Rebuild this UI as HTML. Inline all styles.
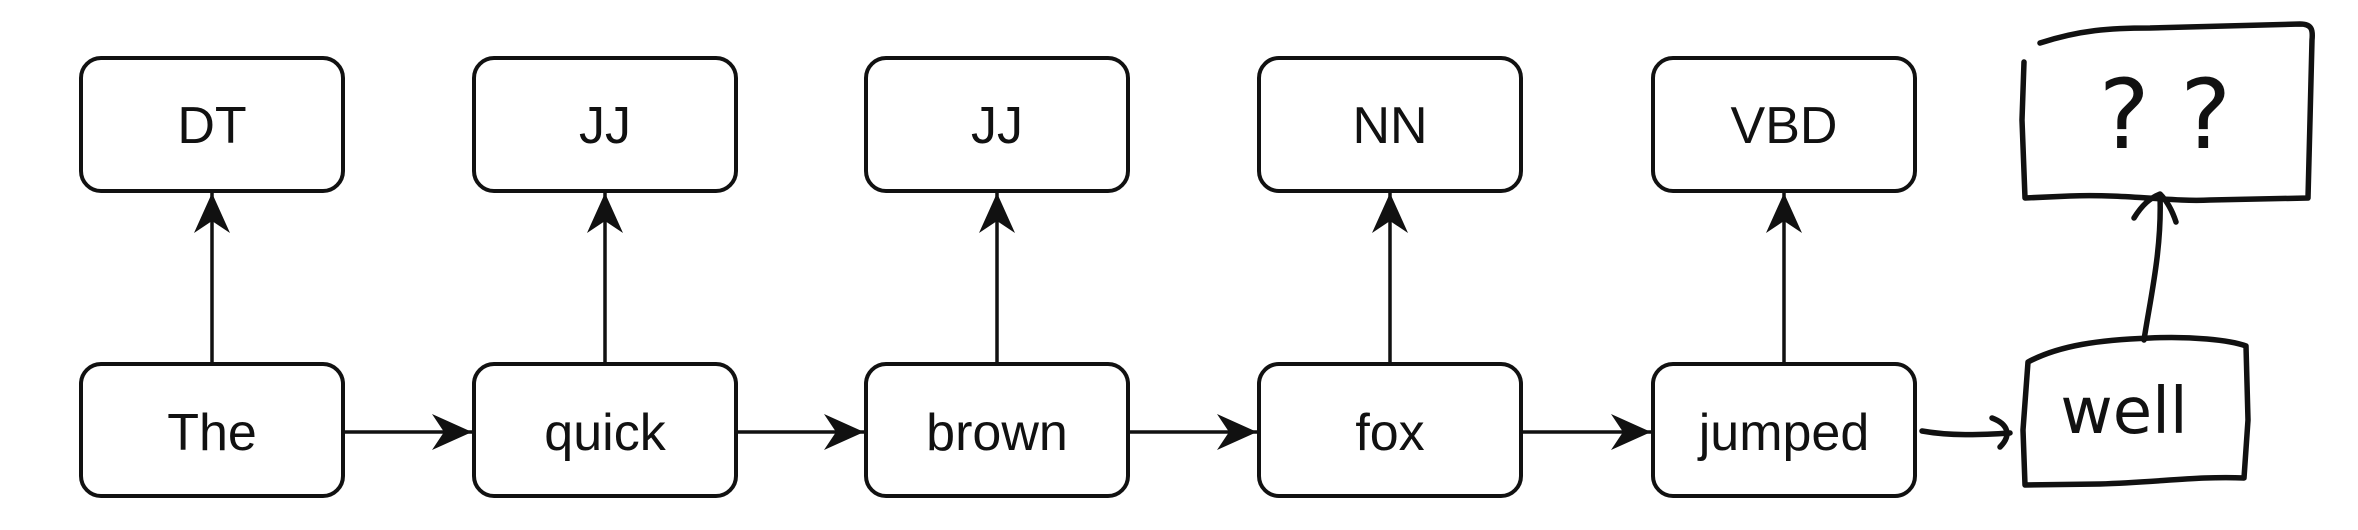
<!DOCTYPE html>
<html><head><style>
html,body{margin:0;padding:0;background:#fff;}
svg{display:block}
text{font-family:"Liberation Sans",Arial,sans-serif;font-size:52px;fill:#111;text-anchor:middle;dominant-baseline:central}
</style></head><body>
<svg width="2358" height="530" viewBox="0 0 2358 530" xmlns="http://www.w3.org/2000/svg">
<defs>
<marker id="a" markerWidth="44" markerHeight="40" refX="40" refY="18" orient="auto" markerUnits="userSpaceOnUse">
<path d="M0,0 L40,18 L0,36 L12,18 Z" fill="#111"/>
</marker>
</defs>
<g fill="#fff" stroke="#111" stroke-width="4">
<rect x="81" y="58" width="262" height="133" rx="20"/>
<rect x="474" y="58" width="262" height="133" rx="20"/>
<rect x="866" y="58" width="262" height="133" rx="20"/>
<rect x="1259" y="58" width="262" height="133" rx="20"/>
<rect x="1653" y="58" width="262" height="133" rx="20"/>
<rect x="81" y="364" width="262" height="132" rx="20"/>
<rect x="474" y="364" width="262" height="132" rx="20"/>
<rect x="866" y="364" width="262" height="132" rx="20"/>
<rect x="1259" y="364" width="262" height="132" rx="20"/>
<rect x="1653" y="364" width="262" height="132" rx="20"/>
</g>
<g stroke="#111" stroke-width="3.5" fill="none" marker-end="url(#a)">
<line x1="212" y1="364" x2="212" y2="193"/>
<line x1="605" y1="364" x2="605" y2="193"/>
<line x1="997" y1="364" x2="997" y2="193"/>
<line x1="1390" y1="364" x2="1390" y2="193"/>
<line x1="1784" y1="364" x2="1784" y2="193"/>
<line x1="345" y1="432" x2="472" y2="432"/>
<line x1="738" y1="432" x2="864" y2="432"/>
<line x1="1130" y1="432" x2="1257" y2="432"/>
<line x1="1523" y1="432" x2="1651" y2="432"/>
</g>
<text x="212" y="126">DT</text>
<text x="605" y="126">JJ</text>
<text x="997" y="126">JJ</text>
<text x="1390" y="126">NN</text>
<text x="1784" y="126">VBD</text>
<text x="212" y="433">The</text>
<text x="605" y="433">quick</text>
<text x="997" y="433">brown</text>
<text x="1390" y="433">fox</text>
<text x="1784" y="433">jumped</text>
<g stroke="#111" stroke-width="5.5" fill="none" stroke-linecap="round" stroke-linejoin="round">
<path d="M2040,43 C2080,30 2110,28 2150,28 L2300,24 C2312,24 2313,30 2312,40 L2310,120 L2308,198 L2210,200 C2170,202 2130,194 2070,196 L2025,198 L2022,120 L2024,62"/>
<path d="M2028,362 C2060,345 2100,340 2150,338 C2190,336 2230,340 2246,346 L2248,420 L2244,478 C2200,476 2160,482 2100,484 L2025,485 L2023,430 Z"/>
<path d="M1922,431 C1950,436 1980,435 2010,433"/>
<path d="M1992,418 C2008,424 2012,435 2000,447"/>
<path d="M2144,340 C2150,300 2162,250 2160,196"/>
<path d="M2134,218 C2142,205 2150,198 2160,194 C2166,200 2172,210 2176,222"/>
</g>
<text x="2165" y="115" style="font-family:'DejaVu Sans',sans-serif;font-size:96px">? ?</text>
<text x="2124" y="412" style="font-family:'DejaVu Sans',sans-serif;font-size:64px">well</text>
</svg>
</body></html>
